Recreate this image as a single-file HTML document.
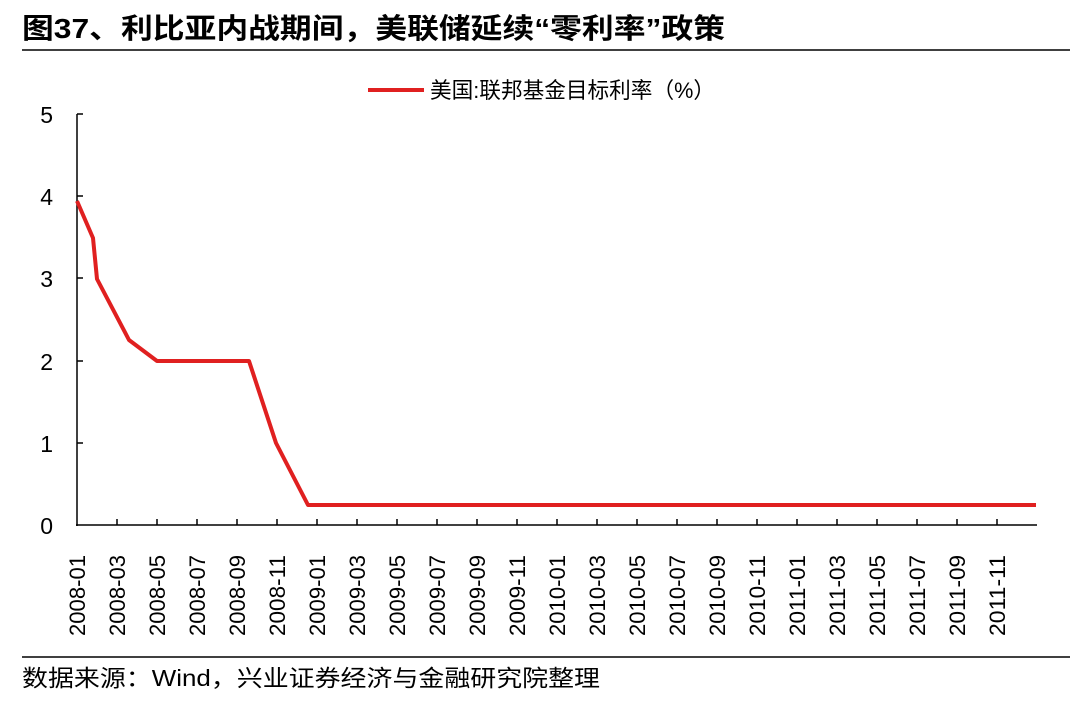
<!DOCTYPE html>
<html><head><meta charset="utf-8"><style>
body{margin:0;background:#fff;width:1080px;height:697px;overflow:hidden;font-family:"Liberation Sans","Noto Sans CJK SC",sans-serif}
</style></head><body>
<svg width="1080" height="697" xmlns="http://www.w3.org/2000/svg" font-family="Liberation Sans, Noto Sans CJK SC, sans-serif">
<text x="22" y="38" font-size="28" font-weight="bold" fill="#000" textLength="703" lengthAdjust="spacingAndGlyphs">图37、利比亚内战期间，美联储延续“零利率”政策</text>
<line x1="22" y1="50" x2="1070" y2="50" stroke="#000" stroke-width="1.5"/>
<line x1="22" y1="657" x2="1070" y2="657" stroke="#000" stroke-width="1.5"/>
<text x="22" y="686" font-size="23" fill="#000" textLength="578" lengthAdjust="spacingAndGlyphs">数据来源：Wind，兴业证券经济与金融研究院整理</text>
<line x1="368" y1="90" x2="424" y2="90" stroke="#e02020" stroke-width="4"/>
<text x="430" y="98" font-size="22" fill="#000" textLength="285" lengthAdjust="spacingAndGlyphs">美国:联邦基金目标利率（%）</text>
<g stroke="#000" stroke-width="1.5">
<line x1="77" y1="114" x2="77" y2="526"/>
<line x1="76" y1="525" x2="1037" y2="525"/>
<line x1="77" y1="114" x2="83" y2="114"/><line x1="77" y1="196" x2="83" y2="196"/><line x1="77" y1="278" x2="83" y2="278"/><line x1="77" y1="361" x2="83" y2="361"/><line x1="77" y1="443" x2="83" y2="443"/>
</g>
<g stroke="#000" stroke-width="1.5" id="xt"></g>
<g font-size="23" fill="#000" text-anchor="end">
<text x="53" y="123">5</text><text x="53" y="205">4</text><text x="53" y="287">3</text><text x="53" y="370">2</text><text x="53" y="452">1</text><text x="53" y="534">0</text>
</g>
<g id="xl" font-size="22" fill="#000"></g>
<polyline fill="none" stroke="#e02020" stroke-width="4" stroke-linejoin="round" points="77,201 93,238 97,279 129,340 157,361 249,361 276,443 308,505 1036,505"/>
<script>
var xt=document.getElementById('xt'),xl=document.getElementById('xl'),ns='http://www.w3.org/2000/svg';
for(var i=0;i<24;i++){var x=77+i*40;
 if(i>0){var l=document.createElementNS(ns,'line');l.setAttribute('x1',x);l.setAttribute('x2',x);l.setAttribute('y1',519);l.setAttribute('y2',525);xt.appendChild(l);}
 var mo=i*2,yy=2008+Math.floor(mo/12),mm=mo%12+1;
 var t=document.createElementNS(ns,'text');t.setAttribute('transform','translate('+(x+8)+',636) rotate(-90)');t.setAttribute('textLength','81');t.setAttribute('lengthAdjust','spacingAndGlyphs');t.textContent=yy+'-'+(mm<10?'0':'')+mm;xl.appendChild(t);}
</script>
</svg>
</body></html>
